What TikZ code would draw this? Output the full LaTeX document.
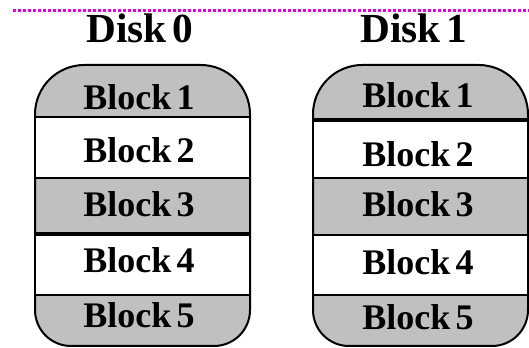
\documentclass[tikz,border=0pt]{standalone}
\usepackage{fontspec}
\setmainfont[WordSpace=0.6]{Liberation Serif}
\definecolor{blockgray}{RGB}{192,192,192}
\definecolor{rulemagenta}{RGB}{230,0,230}
\tikzset{every picture/.style={line width=1.5pt}}
\tikzset{disklabel/.style={font=\fontsize{31}{31}\selectfont\bfseries, anchor=base, inner sep=0pt},
  blocklabel/.style={font=\fontsize{27}{27}\selectfont\bfseries, anchor=base, inner sep=0pt}}

\begin{document}
\begin{tikzpicture}[x=0.75pt,y=0.75pt,yscale=-1,xscale=1]
	\useasboundingbox (0,0) rectangle (529,348);

	%Dotted line at the top
	\coordinate (rulestart) at (13,10.5);
	\coordinate (ruleend) at (529,10.5);
	\draw [rulemagenta, line width=1.8pt, dash pattern=on 2.25pt off 1.5pt] (rulestart) -- (ruleend);

	%Shape: Disk 0 [outline]
	\draw [fill=blockgray] (35,200) [rounded corners=37pt] -- (35,65) -- (250,65) -- (250,200) [rounded corners=27pt] -- (250,346) -- (35,346) -- cycle;
	%Shape: Rectangle [block 2, block 4]
	\fill [white] (36,117) rectangle (249,178);
	\fill [white] (36,234) rectangle (249,295);
	%Straight Lines [separators]
	\draw [line width=1.9pt] (35,117) -- (250,117);
	\draw (35,178) -- (250,178);
	\draw [line width=2.6pt] (35,234) -- (250,234);
	\draw (35,295) -- (250,295);

	%Shape: Disk 1 [outline]
	\draw [fill=blockgray] (313,200) [rounded corners=37pt] -- (313,65) -- (528,65) -- (528,200) [rounded corners=27pt] -- (528,346) -- (313,346) -- cycle;
	%Shape: Rectangle [block 2, block 4]
	\fill [white] (314,120) rectangle (527,178);
	\fill [white] (314,235) rectangle (527,295);
	%Straight Lines [separators]
	\draw [line width=2.6pt] (313,120) -- (528,120);
	\draw (313,178) -- (528,178);
	\draw (313,235) -- (528,235);
	\draw (313,295) -- (528,295);

	% Text Node
	\node (disk0) [disklabel] at (140,43) {Disk 0};
	% Text Node
	\node (disk1) [disklabel] at (414,43) {Disk 1};
	% Text Node
	\node (d0b1) [blocklabel] at (139,110) {Block 1};
	% Text Node
	\node (d0b2) [blocklabel] at (139,163) {Block 2};
	% Text Node
	\node (d0b3) [blocklabel] at (139,217) {Block 3};
	% Text Node
	\node (d0b4) [blocklabel] at (139,273) {Block 4};
	% Text Node
	\node (d0b5) [blocklabel] at (139,328) {Block 5};
	% Text Node
	\node (d1b1) [blocklabel] at (418,108) {Block 1};
	% Text Node
	\node (d1b2) [blocklabel] at (418,167) {Block 2};
	% Text Node
	\node (d1b3) [blocklabel] at (418,217) {Block 3};
	% Text Node
	\node (d1b4) [blocklabel] at (418,275) {Block 4};
	% Text Node
	\node (d1b5) [blocklabel] at (418,330) {Block 5};

\end{tikzpicture}
\end{document}
